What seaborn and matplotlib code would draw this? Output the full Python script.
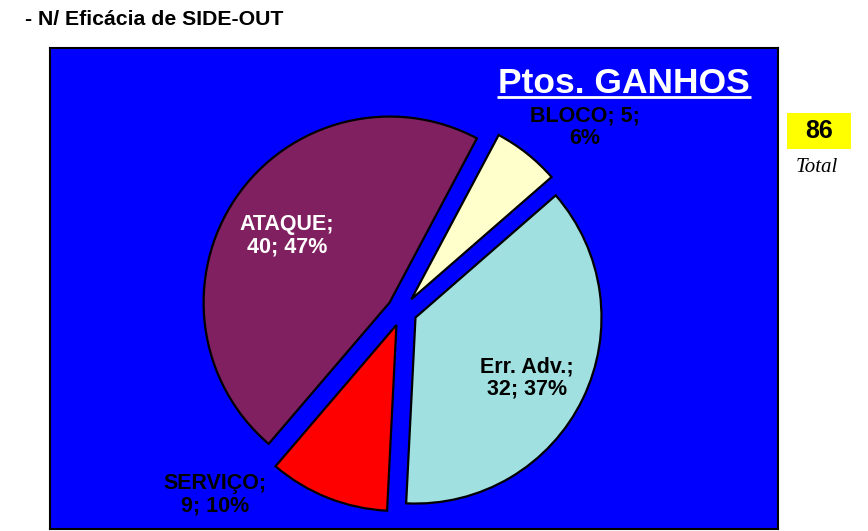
import matplotlib.pyplot as plt
import seaborn as sns
from matplotlib.patches import Rectangle

# Points won (side-out efficiency)
categories = ["BLOCO", "Err. Adv.", "SERVIÇO", "ATAQUE"]
values = [5, 32, 9, 40]
slice_colors = ["#FFFFCC", "#A0E0E0", "#FF0000", "#802060"]
label_colors = ["black", "black", "black", "white"]
total = sum(values)

sns.set_style("white")
plt.rcParams["font.family"] = ["Liberation Sans", "DejaVu Sans"]

W, H = 868, 531
fig = plt.figure(figsize=(W / 100, H / 100), dpi=100)
fig.patch.set_facecolor("white")

# axes in pixel units so the layout below is easy to place
ax = fig.add_axes([50 / W, 2 / H, 728 / W, 481 / H])
ax.set_facecolor("#0000FF")
wedges, _ = ax.pie(values, colors=slice_colors, startangle=62, counterclock=False,
                   radius=186, center=(402, 220), explode=[15] * len(values),
                   frame=True, wedgeprops=dict(edgecolor="black", linewidth=1.6))
ax.set_xlim(50, 778)
ax.set_ylim(2, 483)
ax.set_aspect("auto")
ax.set_xticks([])
ax.set_yticks([])
for s in ax.spines.values():
    s.set_visible(True)
    s.set_color("black")
    s.set_linewidth(1.5)

# slice labels
label_xy = [(585, 404), (527, 153), (215, 36), (287, 295)]
for i, (cat, val) in enumerate(zip(categories, values)):
    pct = f"{val / total:.0%}"
    if i == 0:
        txt = f"{cat}; {val};\n{pct}"
    else:
        txt = f"{cat};\n{val}; {pct}"
    ax.text(*label_xy[i], txt, ha="center", va="center", fontsize=15.5,
            fontweight="bold", color=label_colors[i], linespacing=1.1)

# title with underline
ax.text(624, 438, "Ptos. GANHOS", ha="center", va="baseline", fontsize=25.5,
        fontweight="bold", color="white")
ax.plot([497, 751], [434, 434], color="white", lw=2, solid_capstyle="butt")

# header
fig.text(25 / W, (H - 25) / H, "- N/ Eficácia de SIDE-OUT", ha="left",
         va="baseline", fontsize=15.3, fontweight="bold", color="black")

# total box
fig.add_artist(Rectangle((787 / W, 382 / H), 64 / W, 36 / H,
                         transform=fig.transFigure, facecolor="#FFFF00",
                         edgecolor="none"))
fig.text(819 / W, 400 / H, str(total), ha="center", va="center", fontsize=18,
         fontweight="bold", color="black")
fig.text(817 / W, (H - 167) / H, "Total", ha="center", va="center",
         fontsize=15, fontstyle="italic", color="black",
         family=["Liberation Serif", "DejaVu Serif"])

fig.savefig("out.png", dpi=100)
